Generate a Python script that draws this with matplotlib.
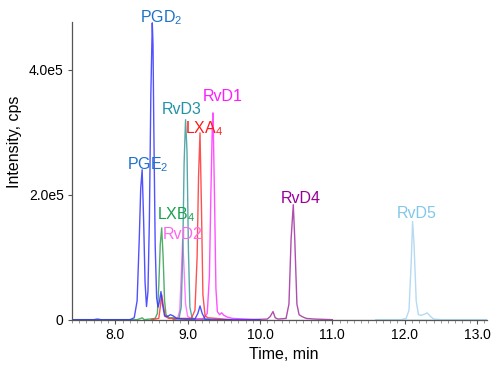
"""Overlaid LC-MS/MS chromatograms of lipid mediators (PGE2 ... RvD5)."""

import matplotlib.pyplot as plt
from matplotlib.ticker import MultipleLocator, FuncFormatter

plt.rcParams["font.family"] = ["Liberation Sans", "DejaVu Sans"]
plt.rcParams["mathtext.fontset"] = "custom"
plt.rcParams["mathtext.rm"] = "Liberation Sans"
plt.rcParams["mathtext.it"] = "Liberation Sans:italic"

# Traces: time (min) and intensity (units of 1e5 cps).
pg_time = [7.40, 7.70, 7.75, 7.80, 8.20, 8.26, 8.30, 8.33, 8.35, 8.37, 8.39,
           8.41, 8.43, 8.45, 8.47, 8.49, 8.51, 8.52, 8.53, 8.55, 8.57, 8.59,
           8.61, 8.63, 8.65, 8.68, 8.72, 8.76, 8.80, 8.85, 8.95, 9.10, 9.14,
           9.17, 9.20, 9.24, 9.40, 10.0]
pg_int = [0.0, 0.0, 0.01, 0.0, 0.0, 0.03, 0.30, 1.30, 2.10, 2.40, 1.60,
          0.60, 0.21, 0.45, 1.60, 3.60, 4.75, 4.40, 3.20, 1.20, 0.35, 0.20,
          0.30, 0.45, 0.25, 0.06, 0.05, 0.08, 0.06, 0.02, 0.01, 0.01, 0.10,
          0.22, 0.10, 0.01, 0.0, 0.0]

lxb4_time = [7.40, 8.30, 8.35, 8.37, 8.40, 8.55, 8.58, 8.60, 8.62, 8.64,
             8.66, 8.68, 8.70, 8.74, 8.80, 8.90, 9.30]
lxb4_int = [0.0, 0.0, 0.02, 0.03, 0.0, 0.02, 0.10, 0.55, 1.20, 1.47,
            1.00, 0.30, 0.08, 0.03, 0.03, 0.01, 0.0]

lxa4_time = [8.50, 8.60, 8.62, 8.64, 8.66, 8.69, 8.74, 9.05, 9.10, 9.13,
             9.15, 9.17, 9.19, 9.21, 9.24, 9.28, 9.40, 9.60]
lxa4_int = [0.0, 0.02, 0.20, 0.40, 0.25, 0.05, 0.02, 0.02, 0.15, 1.00,
            2.30, 2.99, 1.80, 0.40, 0.06, 0.03, 0.02, 0.0]

rvd3_time = [8.80, 8.88, 8.91, 8.93, 8.95, 8.97, 8.99, 9.01, 9.03, 9.06,
             9.10, 9.30]
rvd3_int = [0.0, 0.02, 0.20, 1.00, 2.50, 3.20, 2.70, 1.10, 0.20, 0.03,
            0.01, 0.0]

rvd2_time = [8.80, 8.86, 8.89, 8.91, 8.93, 8.95, 8.97, 9.00, 9.05, 9.20]
rvd2_int = [0.0, 0.02, 0.15, 0.70, 1.28, 0.80, 0.25, 0.05, 0.02, 0.0]

rvd1_time = [9.10, 9.22, 9.27, 9.30, 9.32, 9.34, 9.35, 9.37, 9.39, 9.41,
             9.44, 9.47, 9.50, 9.55, 9.62, 9.80, 10.0]
rvd1_int = [0.0, 0.02, 0.10, 0.70, 2.00, 3.10, 3.31, 2.00, 0.50, 0.13,
            0.08, 0.11, 0.07, 0.04, 0.02, 0.01, 0.0]

rvd4_time = [9.90, 10.10, 10.14, 10.18, 10.21, 10.25, 10.36, 10.40, 10.43,
             10.46, 10.48, 10.51, 10.54, 10.58, 10.64, 10.75, 11.0]
rvd4_int = [0.0, 0.01, 0.05, 0.13, 0.03, 0.01, 0.02, 0.25, 1.30, 1.84,
            1.30, 0.25, 0.08, 0.05, 0.02, 0.01, 0.0]

rvd5_time = [11.60, 11.95, 12.02, 12.06, 12.09, 12.11, 12.13, 12.16, 12.19,
             12.23, 12.28, 12.31, 12.35, 12.40, 12.50, 13.14]
rvd5_int = [0.0, 0.0, 0.02, 0.15, 0.90, 1.57, 1.20, 0.30, 0.08, 0.07,
            0.09, 0.11, 0.06, 0.01, 0.0, 0.0]

base_time = [7.40, 11.60, 13.14]
base_int = [0.0, 0.0, 0.0]

# Peak labels: text, time, height (1e5 cps), colour.
label_text = ["PGD$_2$", "PGE$_2$", "RvD3", "LXA$_4$", "RvD1",
              "LXB$_4$", "RvD2", "RvD4", "RvD5"]
label_time = [8.64, 8.45, 8.92, 9.23, 9.48, 8.84, 8.93, 10.57, 12.17]
label_int = [4.83, 2.48, 3.36, 3.06, 3.57, 1.68, 1.36, 1.94, 1.70]
label_color = ["#1f72c6", "#1f72c6", "#2393a6", "#ff1a1a", "#ff1aff",
               "#1aa04e", "#ff66ee", "#990099", "#82c8ea"]

SCALE = 1e5

fig = plt.figure(figsize=(4.95, 3.71), dpi=100)
ax = fig.add_axes([0.1455, 0.1375, 0.8385, 0.8025])

# Baselines first, so the peaks sit on top.
ax.plot(base_time[:2], [v * SCALE for v in base_int[:2]],
        color="#a0a0a0", linewidth=0.9, alpha=0.8)
ax.plot(base_time[1:], [v * SCALE for v in base_int[1:]],
        color="#3a9a9a", linewidth=1.0)

traces = [
    (rvd5_time, rvd5_int, "#a8d4f0"),
    (rvd4_time, rvd4_int, "#a030a0"),
    (lxb4_time, lxb4_int, "#33a050"),
    (rvd2_time, rvd2_int, "#ff66ff"),
    (rvd3_time, rvd3_int, "#3a9a9a"),
    (rvd1_time, rvd1_int, "#ff33ff"),
    (lxa4_time, lxa4_int, "#ff3333"),
    (pg_time, pg_int, "#3333ff"),
]
for t, y, c in traces:
    ax.plot(t, [v * SCALE for v in y], color=c, linewidth=1.0, alpha=0.85)

for text, t, y, c in zip(label_text, label_time, label_int, label_color):
    ax.text(t, y * SCALE, text, color=c, fontsize=11.5,
            ha="center", va="center", clip_on=False)

ax.set_xlim(7.40, 13.14)
ax.set_ylim(-0.005 * SCALE, 4.76 * SCALE)

ax.xaxis.set_major_locator(MultipleLocator(1.0))
ax.xaxis.set_minor_locator(MultipleLocator(0.1))
ax.xaxis.set_major_formatter(FuncFormatter(lambda v, p: f"{v:.1f}"))
ax.set_yticks([0, 2e5, 4e5])
ax.set_yticklabels(["0", "2.0e5", "4.0e5"])

ax.tick_params(axis="both", labelsize=10, length=3, width=0.8,
               color="#555555", pad=3)
ax.tick_params(axis="x", which="minor", length=2, width=0.6, color="#888888")

for side in ("top", "right"):
    ax.spines[side].set_visible(False)
for side in ("left", "bottom"):
    ax.spines[side].set_color("#555555")
    ax.spines[side].set_linewidth(0.9)

ax.set_xlabel("Time, min", fontsize=11.5)
ax.set_ylabel("Intensity, cps", fontsize=11.5)
ax.xaxis.set_label_coords(0.511, -0.09)
ax.yaxis.set_label_coords(-0.12, 0.6)

fig.savefig("out.png", dpi=100)
